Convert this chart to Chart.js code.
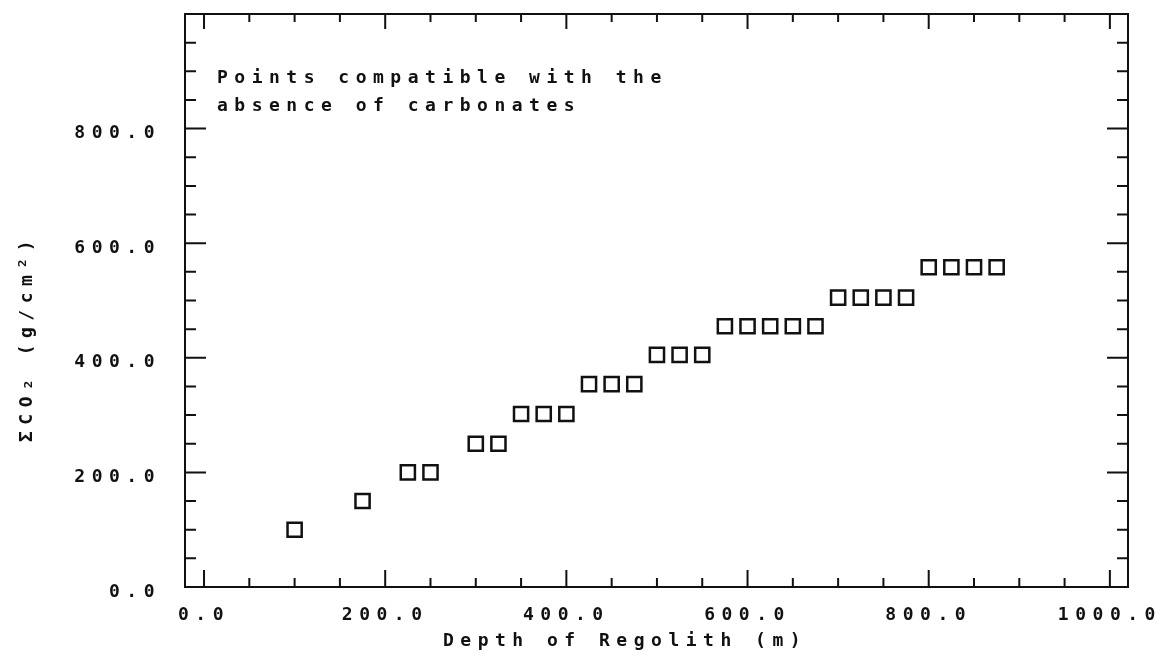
<!DOCTYPE html>
<html>
<head>
<meta charset="utf-8">
<script src="https://cdn.jsdelivr.net/npm/chart.js@4.4.1/dist/chart.umd.min.js"></script>
<style>
  html, body { margin: 0; padding: 0; background: #fff; }
</style>
</head>
<body>
<canvas id="chart" width="1167" height="661"></canvas>
<script>
// Depth of regolith (m) for each plotted point
const depth = [100, 175, 225, 250, 300, 325, 350, 375, 400, 425, 450, 475, 500, 525, 550,
  575, 600, 625, 650, 675, 700, 725, 750, 775, 800, 825, 850, 875];
// Total CO2 (g/cm^2)
const co2 = [100, 150, 200, 200, 250, 250, 302, 302, 302, 354, 354, 354, 405, 405, 405,
  455, 455, 455, 455, 455, 505, 505, 505, 505, 558, 558, 558, 558];

const xTicks = [0, 200, 400, 600, 800, 1000];
const xTickLabels = ['0.0', '200.0', '400.0', '600.0', '800.0', '1000.0'];
const yTicks = [0, 200, 400, 600, 800];
const yTickLabels = ['0.0', '200.0', '400.0', '600.0', '800.0'];
const minorStep = 50;

const noteLines = ['Points compatible with the', 'absence of carbonates'];
const xTitle = 'Depth of Regolith (m)';
const yTitle = 'ΣCO₂ (g/cm²)';

const ink = '#111';
const family = '"DejaVu Sans Mono", monospace';
const fontSize = 18;
const spacing = '6.5px';

// plotter-style frame: closed box with inward ticks on all four sides, plus free text
const frame = {
  id: 'frame',
  beforeDraw(chart) {
    chart.ctx.letterSpacing = spacing;
  },
  afterDraw(chart) {
    const { ctx, chartArea: a, scales: { x, y } } = chart;
    ctx.save();
    ctx.strokeStyle = ink;
    ctx.lineWidth = 2;
    ctx.strokeRect(a.left, a.top, a.right - a.left, a.bottom - a.top);

    ctx.beginPath();
    for (let v = 0; v <= 1000; v += minorStep) {
      const px = x.getPixelForValue(v);
      const major = v % 200 === 0;
      ctx.moveTo(px, a.bottom);
      ctx.lineTo(px, a.bottom - (major ? 17 : 9));
      ctx.moveTo(px, a.top);
      ctx.lineTo(px, a.top + (major ? 15 : 8));
    }
    for (let v = 0; v <= 1000; v += minorStep) {
      const py = y.getPixelForValue(v);
      const major = v % 200 === 0;
      ctx.moveTo(a.left, py);
      ctx.lineTo(a.left + (major ? 21 : 11), py);
      ctx.moveTo(a.right, py);
      ctx.lineTo(a.right - (major ? 21 : 11), py);
    }
    ctx.stroke();

    ctx.fillStyle = ink;
    ctx.font = 'bold ' + fontSize + 'px ' + family;
    ctx.letterSpacing = spacing;
    ctx.textAlign = 'left';
    ctx.textBaseline = 'alphabetic';
    ctx.fillText(noteLines[0], 217, 83);
    ctx.fillText(noteLines[1], 217, 111);

    ctx.fillText(xTitle, 443, 646);

    ctx.translate(32, 338);
    ctx.rotate(-Math.PI / 2);
    ctx.textAlign = 'center';
    ctx.fillText(yTitle, 0, 0);
    ctx.restore();
  }
};

new Chart(document.getElementById('chart'), {
  type: 'scatter',
  data: {
    datasets: [{
      data: depth.map((d, i) => ({ x: d, y: co2[i] })),
      pointStyle: 'rect',
      radius: 10,
      hoverRadius: 10,
      borderWidth: 2.5,
      borderColor: ink,
      backgroundColor: 'rgba(0,0,0,0)'
    }]
  },
  options: {
    responsive: false,
    animation: false,
    devicePixelRatio: 1,
    layout: { padding: { top: 14, right: 39, bottom: 0, left: 0 } },
    plugins: {
      legend: { display: false },
      tooltip: { enabled: false }
    },
    scales: {
      x: {
        type: 'linear',
        min: -21,
        max: 1020,
        grid: { display: false },
        border: { display: false },
        afterBuildTicks: s => { s.ticks = xTicks.map(v => ({ value: v })); },
        afterFit: s => { s.height = 74; s.paddingLeft = 0; s.paddingRight = 0; },
        ticks: {
          padding: 10,
          maxRotation: 0,
          autoSkip: false,
          color: ink,
          font: { family: family, size: fontSize, weight: 'bold' },
          callback: v => xTickLabels[xTicks.indexOf(v)]
        }
      },
      y: {
        type: 'linear',
        min: 0,
        max: 1000,
        grid: { display: false },
        border: { display: false },
        afterBuildTicks: s => { s.ticks = yTicks.map(v => ({ value: v })); },
        afterFit: s => { s.width = 185; s.paddingTop = 0; s.paddingBottom = 0; },
        ticks: {
          padding: 16,
          labelOffset: 5,
          autoSkip: false,
          color: ink,
          font: { family: family, size: fontSize, weight: 'bold' },
          callback: v => yTickLabels[yTicks.indexOf(v)]
        }
      }
    }
  },
  plugins: [frame]
});
</script>
</body>
</html>
